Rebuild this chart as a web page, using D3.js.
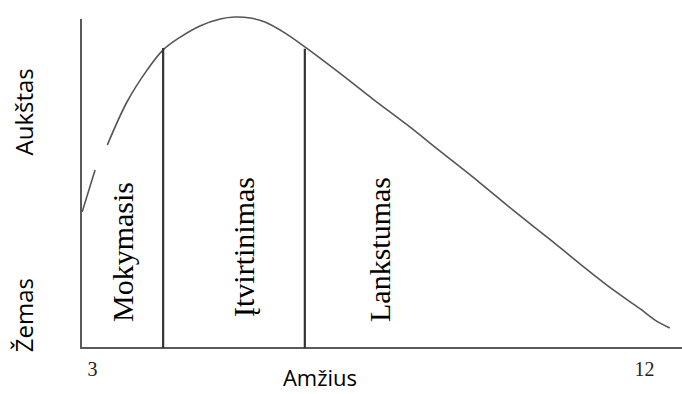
<!DOCTYPE html>
<html>
<head>
<meta charset="utf-8">
<script src="https://cdn.jsdelivr.net/npm/d3@7"></script>
<style>
  html, body { margin: 0; padding: 0; background: #fff; }
  svg { display: block; }
</style>
</head>
<body>
<svg id="chart" width="682" height="394"></svg>
<script>
// age (years) along x, skill level (0-100) along y
const curveAges   = [2.84, 3.05, null, 3.25, 3.57, 3.90, 4.16, 4.44, 4.76, 5.09, 5.33, 5.58, 5.82, 6.15, 6.47, 7.04, 7.58, 8.14, 8.67, 9.33, 9.86, 10.42, 10.96, 11.50, 11.94, 12.18, 12.42];
const curveLevels = [41.5, 54.3, null, 61.9, 75.0, 84.8, 90.9, 94.8, 98.2, 100.3, 100.9, 100.6, 99.4, 96.0, 91.8, 83.8, 75.9, 68.0, 60.1, 50.3, 42.1, 33.8, 25.6, 17.7, 11.9, 8.5, 6.1];

const phaseBounds = [4.16, 6.47];
const boundLevels = [91.5, 91.2];

const phaseNames = ['Mokymasis', 'Įtvirtinimas', 'Lankstumas'];
const phaseAges  = [3.67, 5.64, 7.86];

const tickAges = [3, 12];
const levelNames = ['Aukštas', 'Žemas'];
const levelValues = [72, 10];
const xTitle = 'Amžius';

const svg = d3.select('#chart');

/// scales
const x = d3.scaleLinear().domain([3, 12]).range([92, 644]);
const y = d3.scaleLinear().domain([0, 100]).range([348, 20]);

const axisStart = x.invert(81);
const axisEnd = x.invert(682);

/// axes lines
svg.append('line')
  .attr('x1', x(axisStart)).attr('x2', x(axisStart))
  .attr('y1', y(100.3)).attr('y2', y(0) + 1)
  .attr('stroke', '#5a5a5a').attr('stroke-width', 2);

svg.append('line')
  .attr('x1', x(axisStart) - 1).attr('x2', x(axisEnd))
  .attr('y1', y(0)).attr('y2', y(0))
  .attr('stroke', '#5a5a5a').attr('stroke-width', 2);

/// tick labels 3 and 12
const xAxis = d3.axisBottom(x).tickValues(tickAges).tickSize(0).tickPadding(14);
const gx = svg.append('g')
  .attr('transform', `translate(0,${y(0)})`)
  .call(xAxis);
gx.select('.domain').remove();
gx.selectAll('text')
  .attr('font-family', '"Liberation Serif", "Times New Roman", serif')
  .attr('font-size', 20)
  .attr('fill', '#222');

/// the curve, with its small break near the start
const points = curveAges.map((a, i) => ({age: a, level: curveLevels[i]}));
const line = d3.line()
  .defined(d => d.age !== null)
  .x(d => x(d.age))
  .y(d => y(d.level))
  .curve(d3.curveCatmullRom.alpha(0.5));

svg.append('path')
  .datum(points)
  .attr('d', line)
  .attr('fill', 'none')
  .attr('stroke', '#555')
  .attr('stroke-width', 1.6);

/// phase boundaries
svg.selectAll('.bound')
  .data(phaseBounds)
  .enter().append('line')
  .attr('class', 'bound')
  .attr('x1', d => x(d)).attr('x2', d => x(d))
  .attr('y1', (d, i) => y(boundLevels[i]))
  .attr('y2', y(0))
  .attr('stroke', '#333')
  .attr('stroke-width', 2.2);

/// phase names, rotated
svg.selectAll('.phase')
  .data(phaseNames)
  .enter().append('text')
  .attr('class', 'phase')
  .attr('transform', (d, i) => `translate(${x(phaseAges[i])},${i === 1 ? 317 : 322}) rotate(-90)`)
  .attr('font-family', '"Liberation Serif", "Times New Roman", serif')
  .attr('font-size', 30)
  .attr('fill', '#000')
  .text(d => d);

/// level names on the left
svg.selectAll('.level')
  .data(levelNames)
  .enter().append('text')
  .attr('class', 'level')
  .attr('transform', (d, i) => `translate(33,${y(levelValues[i])}) rotate(-90)`)
  .attr('text-anchor', 'middle')
  .attr('font-family', '"Open Sans", sans-serif')
  .attr('font-size', 24)
  .attr('fill', '#000')
  .text(d => d);

/// x title
svg.append('text')
  .attr('x', 320)
  .attr('y', 386)
  .attr('text-anchor', 'middle')
  .attr('font-family', '"Open Sans", sans-serif')
  .attr('font-size', 22)
  .attr('fill', '#000')
  .text(xTitle);
</script>
</body>
</html>
